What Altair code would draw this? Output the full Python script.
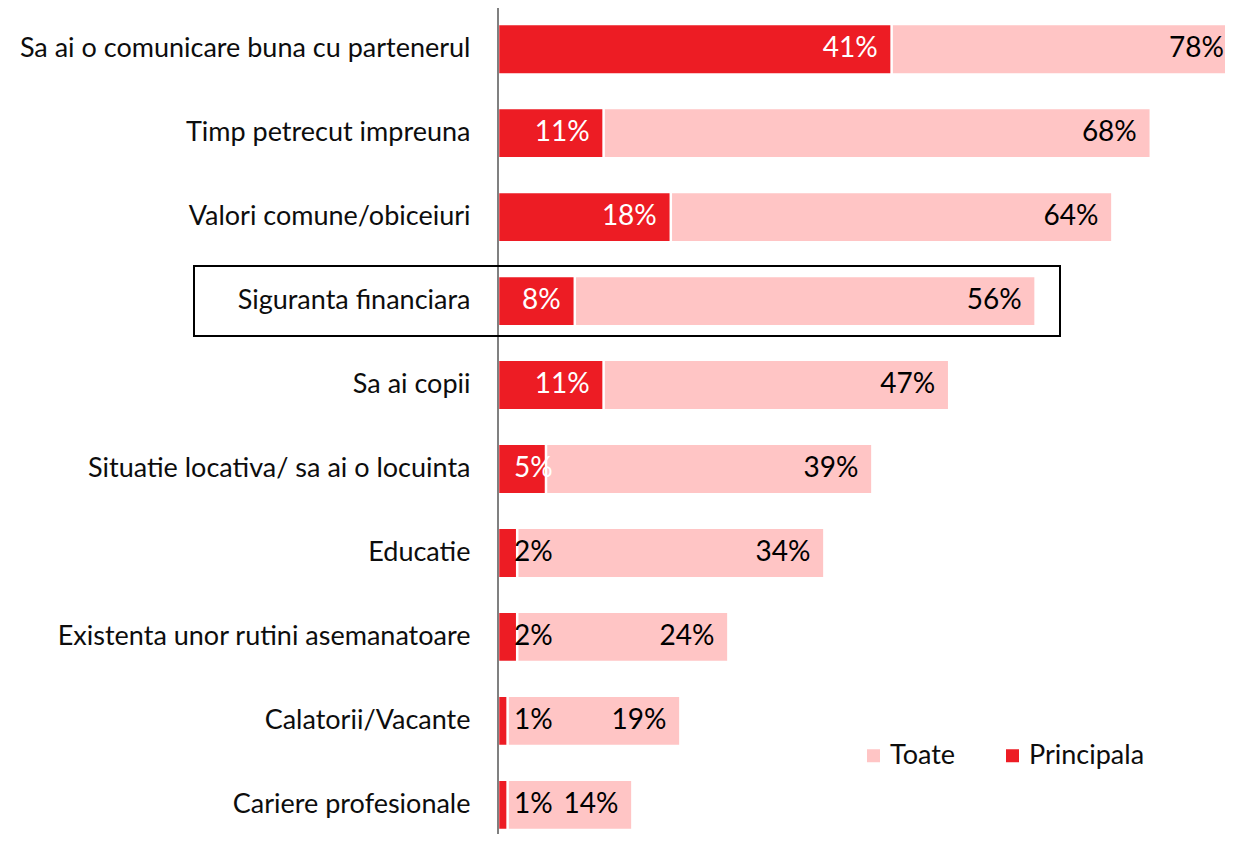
import altair as alt
import pandas as pd

categorii = [
    "Sa ai o comunicare buna cu partenerul",
    "Timp petrecut impreuna",
    "Valori comune/obiceiuri",
    "Siguranta financiara",
    "Sa ai copii",
    "Situatie locativa/ sa ai o locuinta",
    "Educatie",
    "Existenta unor rutini asemanatoare",
    "Calatorii/Vacante",
    "Cariere profesionale",
]
toate = [78, 68, 64, 56, 47, 39, 34, 24, 19, 14]
principala = [41, 11, 18, 8, 11, 5, 2, 2, 1, 1]
serii = ["Toate", "Principala"]
culori = ["#FFC5C5", "#ED1C24"]
evidentiat = "Siguranta financiara"

df = pd.DataFrame({"categorie": categorii, "Toate": toate, "Principala": principala})

FONT = "Lato"
FS = 27
FS_VAL = 28
PAD_L, PAD_T, PAD_B = 490, 16, 4
W = 727
H = 806
PX_PER_UNIT = 9.6
XMAX = W / PX_PER_UNIT
BOX_LEFT_PX = -304
BOX_RIGHT_PX = 562

yenc = alt.Y(
    "categorie:N",
    sort=categorii,
    scale=alt.Scale(paddingInner=0.4, paddingOuter=0),
    axis=alt.Axis(
        title=None, domain=False, ticks=False, labelPadding=28,
        labelFontSize=FS, labelFont=FONT, labelColor="#0d0d0d", labelLimit=600,
    ),
)
xscale = alt.Scale(domain=[0, XMAX], nice=False, zero=False)

color_scale = alt.Scale(domain=serii, range=culori)
legend = alt.Legend(
    title=None, orient="none", legendX=362, legendY=718, direction="horizontal",
    symbolType="square", symbolSize=169, symbolStrokeWidth=0,
    labelFont=FONT, labelFontSize=FS, labelColor="#0d0d0d",
    columnPadding=43, labelOffset=3,
)

base = alt.Chart(df).transform_calculate(zero="0")

bars = base.transform_fold(serii, as_=["serie", "valoare"]).mark_bar(
    stroke="white", strokeWidth=2.5, clip=True
).encode(
    y=yenc,
    x=alt.X("valoare:Q", scale=xscale, axis=None, stack=None),
    color=alt.Color("serie:N", scale=color_scale, legend=legend),
)

axis_rule = base.mark_rule(color="#808080", strokeWidth=2).encode(
    x=alt.X("zero:Q", scale=xscale, axis=None),
    y=alt.value(-PAD_T),
    y2=alt.value(H + PAD_B),
)

txt_toate = base.transform_calculate(
    t="datum.Toate + '%'",
    lx=f"min(datum.Toate, {XMAX + 13 / PX_PER_UNIT})",
).mark_text(
    align="right", baseline="middle", dx=-14, font=FONT, fontSize=FS_VAL, color="black"
).encode(y=yenc, x=alt.X("lx:Q", scale=xscale, axis=None), text="t:N")

txt_princ_big = base.transform_filter("datum.Principala >= 7").transform_calculate(
    t="datum.Principala + '%'"
).mark_text(
    align="right", baseline="middle", dx=-14, font=FONT, fontSize=FS_VAL, color="white"
).encode(y=yenc, x=alt.X("Principala:Q", scale=xscale, axis=None), text="t:N")

txt_princ_mid = base.transform_filter(
    "datum.Principala >= 5 && datum.Principala < 7"
).transform_calculate(t="datum.Principala + '%'").mark_text(
    align="left", baseline="middle", dx=16, font=FONT, fontSize=FS_VAL, color="white"
).encode(y=yenc, x=alt.X("zero:Q", scale=xscale, axis=None), text="t:N")

txt_princ_small = base.transform_filter("datum.Principala < 5").transform_calculate(
    t="datum.Principala + '%'"
).mark_text(
    align="left", baseline="middle", dx=16, font=FONT, fontSize=FS_VAL, color="black"
).encode(y=yenc, x=alt.X("zero:Q", scale=xscale, axis=None), text="t:N")

box = base.transform_filter(alt.datum.categorie == evidentiat).transform_calculate(
    x0=f"{BOX_LEFT_PX / PX_PER_UNIT}", x1=f"{BOX_RIGHT_PX / PX_PER_UNIT}"
).mark_bar(
    size=70, fillOpacity=0, stroke="black", strokeWidth=2
).encode(
    y=yenc,
    x=alt.X("x0:Q", scale=xscale, axis=None),
    x2="x1:Q",
)

chart = alt.layer(
    bars, axis_rule, txt_toate, txt_princ_big,
    txt_princ_mid, txt_princ_small, box,
).properties(
    width=W, height=H,
    autosize=alt.AutoSizeParams(type="none"),
    padding={"left": PAD_L, "top": PAD_T, "right": 0, "bottom": PAD_B},
    background="white",
).configure_view(strokeWidth=0)

chart.save("out.html", embed_options={"renderer": "svg", "actions": False})
